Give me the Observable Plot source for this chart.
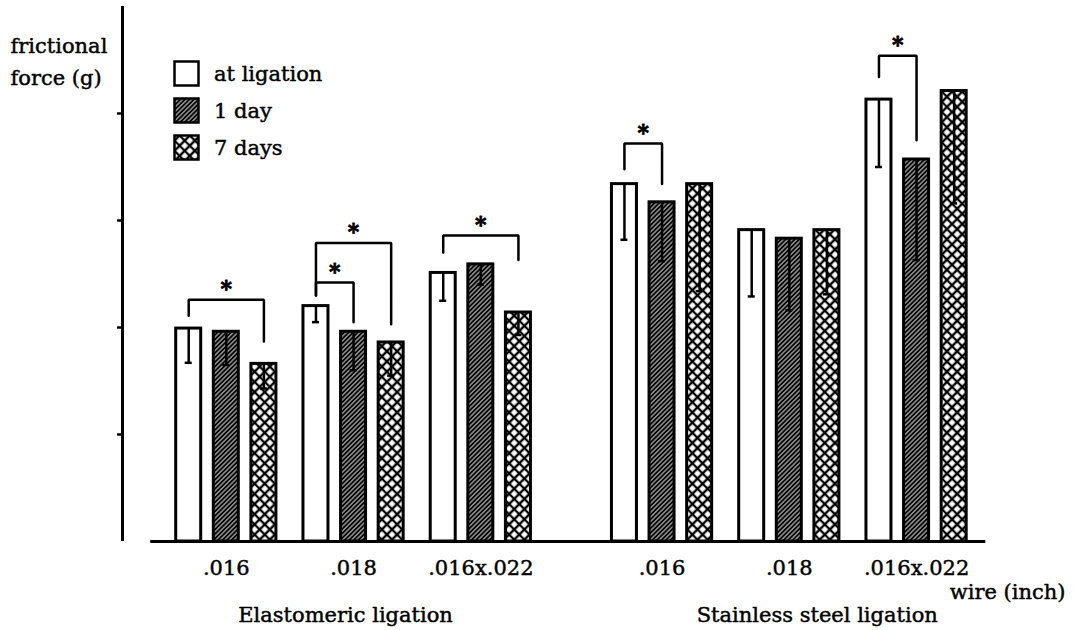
<!DOCTYPE html>
<html>
<head>
<meta charset="utf-8">
<script src="https://cdn.jsdelivr.net/npm/d3@7"></script>
<script src="https://cdn.jsdelivr.net/npm/@observablehq/plot@0.6"></script>
<style>
  body { margin: 0; background: #fff; }
  #chart { width: 1085px; height: 630px; }
</style>
</head>
<body>
<div id="chart"></div>
<script>
// Ligation methods and wire sizes (groups run section by section, wire by wire)
const sections = ["Elastomeric ligation", "Stainless steel ligation"];
const wires = [".016", ".018", ".016x.022"];
const series = ["at ligation", "1 day", "7 days"];

// Mean frictional force (g) and its standard deviation, one entry per group
const meanAtLigation = [199, 220, 251, 334, 291, 413];
const sdAtLigation   = [32, 15, 26, 52, 62, 63];
const mean1Day       = [196, 196, 259, 317, 283, 357];
const sd1Day         = [31, 36, 19, 55, 67, 94];
const mean7Days      = [166, 186, 214, 334, 291, 421];
const sd7Days        = [23, 31, 21, 100, 60, 105];

// y-axis tick values (unlabelled)
const yTicks = [100, 200, 300, 400];

// Significance brackets: group index, compared series, bracket height and leg ends (g)
const bracketGroup   = [0, 1, 1, 2, 3, 5];
const bracketFrom    = [0, 0, 0, 0, 0, 0];
const bracketTo      = [2, 1, 2, 2, 1, 1];
const bracketTop     = [226, 242, 279, 286, 372, 454];
const bracketFromEnd = [211, 230, 230, 270, 348, 434];
const bracketToEnd   = [187, 205, 203, 263, 334, 375];

// ---- layout (x measured in group pitches) ----
const width = 1085, height = 630;
const marginLeft = 122, marginRight = 0, marginTop = 6, marginBottom = 89;
const pitch = 127.26;                       // pixels per group
const xMax = (width - marginLeft - marginRight) / pitch;
const firstGroup = 0.8157, sectionGap = 0.424, seriesStep = 0.2955;
const halfBar = 12.5 / pitch, capHalf = 3.5 / pitch;
const fills = ["white", "url(#fill-hatch)", "url(#fill-cross)"];
const font = "'DejaVu Serif', serif";
const fontSize = 21;
const ink = {fill: "black", stroke: "black", strokeWidth: 0.45, fontSize};

const means = [meanAtLigation, mean1Day, mean7Days];
const sds = [sdAtLigation, sd1Day, sd7Days];

const groups = sections.flatMap((section, si) =>
  wires.map((wire, wi) => ({
    section, wire,
    index: si * wires.length + wi,
    xc: firstGroup + si * (wires.length + sectionGap) + wi
  }))
);

const bars = groups.flatMap(g =>
  series.map((name, k) => ({
    series: name,
    group: g.index,
    x: g.xc + (k - 1) * seriesStep,
    mean: means[k][g.index],
    sd: sds[k][g.index],
    fill: fills[k]
  }))
);
const barX = (gi, k) => bars.find(b => b.group === gi && b.series === series[k]).x;

const brackets = bracketGroup.map((gi, i) => {
  const xa = barX(gi, bracketFrom[i]), xb = barX(gi, bracketTo[i]);
  return {id: i, xa, xb, mid: (xa + xb) / 2, top: bracketTop[i], endA: bracketFromEnd[i], endB: bracketToEnd[i]};
});
const bracketPath = brackets.flatMap(b => [
  {id: b.id, x: b.xa, y: b.endA},
  {id: b.id, x: b.xa, y: b.top},
  {id: b.id, x: b.xb, y: b.top},
  {id: b.id, x: b.xb, y: b.endB}
]);

const sectionLabel = sections.map(s => ({
  text: s,
  x: d3.mean(groups.filter(g => g.section === s), g => g.xc)
}));

const baseStart = bars[0].x - halfBar - 0.2;
const baseEnd = bars[bars.length - 1].x + halfBar + 0.15;

const chart = Plot.plot({
  width, height, marginLeft, marginRight, marginTop, marginBottom,
  style: {fontFamily: font, fontSize: `${fontSize}px`, background: "white", color: "black"},
  x: {domain: [0, xMax], axis: null},
  y: {domain: [0, 500]},
  color: {type: "identity"},
  marks: [
    // bars
    Plot.rectY(bars, {
      x1: d => d.x - halfBar, x2: d => d.x + halfBar,
      y1: 0, y2: "mean",
      fill: "fill", stroke: "black", strokeWidth: 3
    }),
    // standard deviation drawn downward from the bar top
    Plot.ruleX(bars, {x: "x", y1: d => d.mean - d.sd, y2: "mean", stroke: "black", strokeWidth: 2.5}),
    Plot.ruleY(bars, {y: d => d.mean - d.sd, x1: d => d.x - capHalf, x2: d => d.x + capHalf, stroke: "black", strokeWidth: 2.5}),
    // axes
    Plot.ruleY([0], {x1: baseStart, x2: baseEnd, stroke: "black", strokeWidth: 3}),
    Plot.ruleX([0], {y1: 0, y2: 500, stroke: "black", strokeWidth: 3}),
    Plot.axisY({ticks: yTicks, tickSize: 5, tickFormat: () => "", label: null, strokeWidth: 2.5}),
    // significance brackets
    Plot.line(bracketPath, {x: "x", y: "y", z: "id", stroke: "black", strokeWidth: 2.5, strokeLinejoin: "miter"}),
    Plot.text(brackets, {x: "mid", y: "top", text: () => "*", dy: -11, fontSize: 22, fontWeight: "bold", fill: "black", stroke: "black", strokeWidth: 0.8}),
    // wire size labels
    Plot.text(groups, {x: "xc", y: 0, text: "wire", lineAnchor: "bottom", dy: 33, ...ink}),
    // section labels
    Plot.text(sectionLabel.slice(0, 1), {x: "x", y: 0, text: "text", lineAnchor: "bottom", dy: 80, dx: -8, ...ink}),
    Plot.text(sectionLabel.slice(1), {x: "x", y: 0, text: "text", lineAnchor: "bottom", dy: 80, dx: 28, ...ink}),
    Plot.text(["wire (inch)"], {frameAnchor: "bottom-right", textAnchor: "end", lineAnchor: "bottom", dx: -20, dy: 57, ...ink}),
    Plot.text(["frictional\nforce (g)"], {frameAnchor: "top-left", textAnchor: "start", lineAnchor: "top", dx: -112, dy: 24, lineHeight: 1.52, ...ink})
  ]
});

// fill patterns for the 1-day (hatched) and 7-day (cross-hatched) bars
const svg = d3.select(chart);
const defs = svg.insert("defs", ":first-child");
const hatch = defs.append("pattern").attr("id", "fill-hatch")
  .attr("patternUnits", "userSpaceOnUse").attr("width", 3.2).attr("height", 10)
  .attr("patternTransform", "rotate(45)");
hatch.append("rect").attr("width", 3.2).attr("height", 10).attr("fill", "white");
hatch.append("line").attr("x1", 1.6).attr("x2", 1.6).attr("y1", -1).attr("y2", 11)
  .attr("stroke", "black").attr("stroke-width", 2.35);
const cross = defs.append("pattern").attr("id", "fill-cross")
  .attr("patternUnits", "userSpaceOnUse").attr("width", 7.2).attr("height", 7.2)
  .attr("patternTransform", "rotate(45)");
cross.append("rect").attr("width", 7.2).attr("height", 7.2).attr("fill", "white");
cross.append("path").attr("d", "M3.6,0V7.2M0,3.6H7.2")
  .attr("stroke", "black").attr("stroke-width", 2.4);

// legend inside the plot area
const legend = svg.append("g")
  .attr("font-family", font).attr("font-size", fontSize)
  .attr("text-anchor", "start").attr("fill", "black")
  .attr("stroke", "black").attr("stroke-width", 0.45);
series.forEach((name, k) => {
  const row = legend.append("g").attr("transform", `translate(174.5,${61.5 + k * 37})`);
  row.append("rect").attr("width", 24).attr("height", 24)
    .attr("fill", fills[k]).attr("stroke", "black").attr("stroke-width", 2.5);
  row.append("text").attr("x", 39.5).attr("y", 19.5).text(name);
});

document.getElementById("chart").append(chart);
</script>
</body>
</html>
